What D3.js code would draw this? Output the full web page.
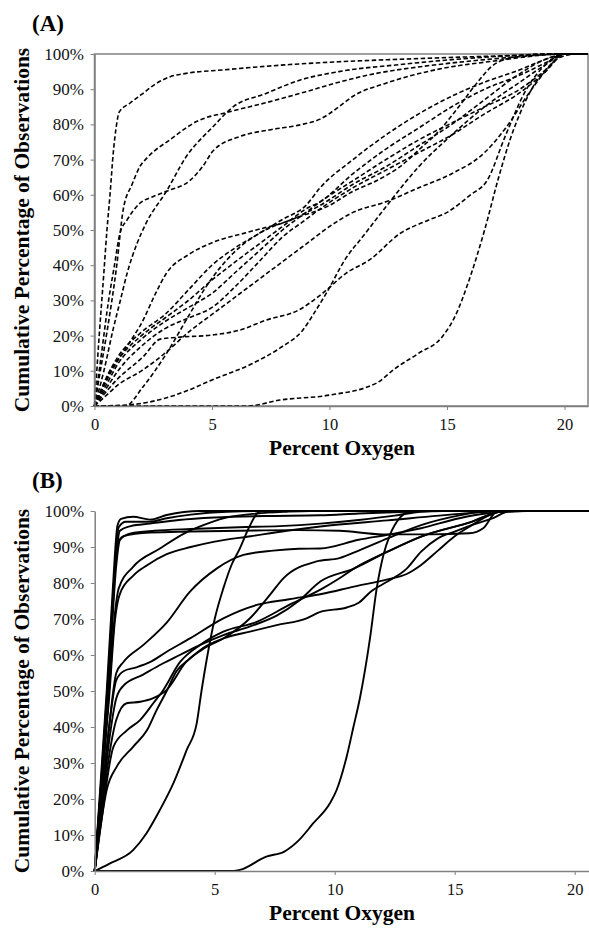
<!DOCTYPE html>
<html>
<head>
<meta charset="utf-8">
<script src="https://cdn.jsdelivr.net/npm/d3@7"></script>
<style>
  body { margin: 0; background: #fff; }
  svg { display: block; font-family: "Liberation Serif", "Times New Roman", serif; }
</style>
</head>
<body>
<svg id="chart" width="589" height="931"></svg>
<script>
// values: [percent oxygen, cumulative %]
const a1 = [[0,0],[0.2,20],[0.4,38],[0.53,50],[0.66,60],[0.8,72],[0.94,80],[1.05,83.5],[1.5,86],[2,88.5],[2.6,91.5],[3.2,93.5],[3.9,94.5],[5.5,95.5],[8.3,97],[10.4,97.8],[13,98.5],[16,99.2],[19,99.8],[20,100],[21,100]]
const a2 = [[0,0],[0.16,6.5],[0.52,20.6],[0.94,39.6],[1.22,55.7],[1.6,63],[1.93,68],[2.28,70.8],[3.2,75.6],[4.34,80.8],[5.75,83.6],[7.2,86],[9,89.3],[10.4,92],[12,94.5],[14,96.5],[16,98],[18,99.2],[20,100],[21,100]]
const a3 = [[0,0],[0.3,15],[0.6,30],[0.85,40],[1.08,49],[1.4,53],[1.93,57.6],[2.5,59.5],[3.06,61],[4.05,64],[4.6,68],[5.05,72.5],[6.2,76.6],[7.5,78.5],[8.7,79.8],[9.6,81.5],[10.4,85],[11,88],[12.4,91.7],[14.5,95.5],[17,98],[20,100],[21,100]]
const a4 = [[0,0],[0.4,10],[0.8,22],[1.1,30],[1.4,38],[1.8,46],[2.2,52],[3.06,61],[3.9,70.8],[5.05,79.4],[5.9,85],[7.3,88.8],[8.7,92.5],[10.4,95],[13,97],[16,98.8],[20,100],[21,100]]
const a5 = [[0,0],[0.6,9],[1.37,16.8],[2.07,24.4],[2.6,32],[3.06,37.7],[4,43],[5.05,46.5],[6.6,49.5],[8.4,53],[9.6,57],[11,63],[12.4,68],[13.8,74],[15.2,80],[16.6,87],[18,94],[19.2,98.5],[20,100],[21,100]]
const a6 = [[0,0],[0.5,8],[1,14],[2,21],[3,26],[4,33],[5,40],[6,45],[7,49],[8,53],[9,57],[9.6,62],[11,70],[12.4,77],[13.8,83],[15.2,88],[16.6,92],[18.1,95.5],[19.2,98.5],[20,100],[21,100]]
const a7 = [[0,0],[0.5,7],[1,13],[2,20],[3,25],[4,30],[5,35.8],[6,41],[7,46],[8,51],[9,56],[9.6,58],[11,66],[12.4,73],[13.8,79],[15.2,85],[16.6,90],[18.1,94],[19.2,97.5],[20,100],[21,100]]
const a8 = [[0,0],[0.5,6],[1,12],[2,19],[3,24],[4,28],[5,32],[6,38],[7,44],[8,50],[9,55],[9.6,58],[11,64],[12.4,70],[13.8,75.6],[15.2,80.4],[16.6,85],[18.1,90],[19.2,95.5],[20,100],[21,100]]
const a9 = [[0,0],[0.5,5],[1,10],[2,17],[3,22],[4,25],[5,28],[6,34],[7,41],[8,48],[9,53],[9.6,56],[11,62],[12.4,67],[13.8,72],[15.2,77],[16.6,83],[18.1,89],[19.2,95],[20,100],[21,100]]
const a10 = [[0,0],[0.5,3],[1,6],[2,10],[3,15],[4,21],[5,26],[6,31],[7,36],[8,41],[9,46],[10,51],[11,55],[12.4,58],[13.8,62],[15.2,66],[16.6,72],[17.5,79],[18.5,89],[19.3,96],[20,100],[21,100]]
const a11 = [[0,0],[1.3,0],[2.07,5.5],[3.07,15],[3.9,24.4],[4.76,34],[5.9,43.4],[7,49],[8.4,53],[10,57],[11,61],[12,64],[13,68],[14,74],[14.5,77],[15.5,85],[16.3,92],[17,97],[18,99.3],[19,100],[21,100]]
const a12 = [[0,0],[0.94,7.4],[2.07,14],[2.8,19],[3.5,19.5],[5.05,20.2],[6.2,21.6],[7.3,24.4],[8.7,27.3],[9.7,32],[10.7,37.7],[11.7,41.5],[13,49],[14.2,52.8],[15,55],[16,60],[16.7,64],[17.5,77],[18.3,89],[19.2,97],[20,100],[21,100]]
const a13 = [[0,0],[1.4,0.3],[3,2.2],[4,4.5],[5,7.4],[6.7,12],[7.9,16.5],[8.87,21.6],[9.43,27.3],[9.86,32],[10.7,42],[11.4,48],[12.1,54],[12.8,60],[13.8,68],[15.2,77],[16.6,85],[18.1,92],[19.2,97],[20,100],[21,100]]
const a14 = [[0,0],[6.5,0],[7.9,1.7],[10,3.1],[12,6.5],[12.8,10.7],[13.8,15],[14.8,19.7],[15.4,26.3],[15.9,35],[16.6,50],[17.2,65],[17.7,76],[18.1,83],[18.6,90],[19.2,95.5],[19.8,99],[20.5,100],[21,100]]

const b1 = [[0,0],[0.25,25],[0.5,50],[0.75,78],[0.95,96],[1.1,97.8],[1.6,98.4],[2.3,97.6],[3,98.9],[4.4,100],[21,100]]
const b2 = [[0,0],[0.3,28],[0.6,58],[0.85,85],[1,95.5],[1.3,97],[2.3,97],[3,98],[4,99],[5.5,99.8],[7,100],[21,100]]
const b3 = [[0,0],[0.3,27],[0.6,56],[0.9,88],[1.05,94.5],[1.5,95.8],[2.3,96.5],[3.5,97.5],[5,98.2],[7,98.6],[9.4,98.8],[11,99.3],[13,99.8],[14,100],[21,100]]
const b4 = [[0,0],[0.3,26],[0.6,56],[0.85,84],[1,91.5],[1.2,93],[2.3,94],[4,94.3],[6.75,94.6],[8.5,94.7],[10.2,94.5],[12,93.5],[14,93.5],[15.6,93.8],[16.2,95.3],[16.75,99.8],[17.2,100],[21,100]]
const b5 = [[0,0],[0.3,26],[0.6,54],[0.9,85],[1.05,92],[1.5,93.8],[2.5,94.5],[4,95],[6,95.5],[7.7,95.8],[9.4,96.5],[11,97.5],[12.5,98.7],[13.6,99.8],[14.5,100],[21,100]]
const b6 = [[0,0],[0.3,25],[0.6,50],[0.85,72],[1,78.5],[1.6,84.5],[2.7,89.5],[3.8,94],[4.5,96],[5.4,98],[6.75,99.3],[8,99.8],[9,100],[21,100]]
const b7 = [[0,0],[0.3,24],[0.6,48],[0.85,70],[1.05,77],[1.6,82],[2.2,85],[3,88],[4,90],[5,91.5],[6.5,93],[8,94.5],[9.4,95.7],[12.2,97.4],[15.2,99.2],[17,100],[21,100]]
const b8 = [[0,0],[0.3,20],[0.6,40],[0.9,55],[1.19,58],[2.03,62.8],[3,69],[3.97,77.6],[5.08,84],[6.2,87.8],[7.44,89],[8.5,89.5],[9.4,89.6],[11,92],[12.2,93.4],[13.6,95.2],[15.2,98],[16.3,99.3],[18,100],[21,100]]
const b9 = [[0,0],[0.3,20],[0.6,40],[0.9,53],[1.2,55.5],[1.7,56.5],[2.3,58],[3,60.9],[3.97,64.6],[5.36,70.2],[6.75,73.9],[8.1,75.5],[9.5,77],[10.8,79],[12.2,81],[13,82.5],[13.6,85],[14.3,89],[15,93],[15.7,96],[16.5,99],[17,100],[21,100]]
const b10 = [[0,0],[0.3,18],[0.6,36],[0.9,48],[1.2,51.5],[2,54.5],[2.8,57.5],[3.55,60],[4.4,62.8],[5.36,65.5],[6.5,68],[7.6,71],[8.5,75],[9.4,80.4],[10.8,84],[12.2,88.7],[13.6,92.9],[15.7,97],[16.9,99.8],[17.5,100],[21,100]]
const b11 = [[0,0],[0.3,17],[0.6,32],[0.9,42],[1.33,46.6],[1.9,47],[2.44,48],[3,50.3],[3.8,58],[4.6,62],[5.36,64.6],[6.47,70.2],[7.3,76.7],[7.86,81.3],[9.25,86],[10.2,86.9],[11,89],[12.2,92.4],[13.6,96.1],[15.2,98.8],[16,99.7],[17,100],[21,100]]
const b12 = [[0,0],[0.3,15],[0.78,34.5],[1.33,39],[1.9,42],[2.44,46.6],[2.86,50.3],[3.55,58],[4.39,62.8],[5.36,66.5],[6.75,69.2],[8.1,73.9],[9.5,78.5],[10.2,81.3],[10.8,84],[12.2,88.7],[13.6,92.9],[15.7,97],[16.9,99.8],[17.5,100],[21,100]]
const b13 = [[0,0],[0.5,22.5],[0.92,29],[1.6,34.5],[2.17,39],[2.58,44.7],[3,50],[3.4,55.4],[3.97,59],[4.5,61.9],[5.36,64.6],[6.47,66.5],[7.58,68.3],[8.83,70.2],[9.4,72],[10.5,73.2],[11,74.5],[11.5,77.6],[12.2,80.4],[13,84],[13.6,88.7],[14.3,92.4],[15,94.3],[15.7,96.1],[16.6,98],[17.2,99.8],[17.8,100],[21,100]]
const b14 = [[0,0],[0.6,2],[1.6,5.8],[2.16,10.5],[2.72,17],[3.28,24.4],[3.83,33.6],[4.25,41],[4.45,50],[4.7,60],[5,70],[5.36,78.5],[5.7,85],[6.05,89.6],[6.4,95],[6.8,99.5],[7,100],[21,100]]
const b15 = [[0,0],[5.8,0],[6.05,0.3],[7.15,4],[7.9,5.4],[8.5,8.5],[9.1,13.2],[9.8,18.8],[10.08,22.5],[10.5,31.8],[10.78,40],[11.05,48],[11.47,64.6],[11.75,78.5],[12.03,87.8],[12.3,93.3],[12.7,98],[13.1,99.8],[13.5,100],[21,100]]

const curvesA = [a1, a2, a3, a4, a5, a6, a7, a8, a9, a10, a11, a12, a13, a14]
const curvesB = [b1, b2, b3, b4, b5, b6, b7, b8, b9, b10, b11, b12, b13, b14, b15]

const yTicks = d3.range(0, 101, 10)
const xTicks = [0, 5, 10, 15, 20]
const yTitle = "Cumulative Percentage of Observations"
const xTitle = "Percent Oxygen"

const svg = d3.select("#chart")
const axisColor = "#808080"

const drawPanel = (cfg) => {
  const { curves, tag, left, right, top, bottom, dashed, box } = cfg

  const x = d3.scaleLinear().domain([0, 21]).range([left, right])
  const y = d3.scaleLinear().domain([0, 100]).range([bottom, top])
  const g = svg.append("g")

  if (box) {
    g.append("rect")
      .attr("x", left)
      .attr("y", top)
      .attr("width", right - left)
      .attr("height", bottom - top)
      .attr("fill", "none")
      .attr("stroke", axisColor)
      .attr("stroke-width", 1.5)
  }

  const line = d3.line()
    .x(d => x(d[0]))
    .y(d => y(d[1]))
    .curve(d3.curveMonotoneX)

  g.append("g")
    .selectAll("path")
    .data(curves)
    .enter()
    .append("path")
    .attr("d", line)
    .attr("fill", "none")
    .attr("stroke", "#000")
    .attr("stroke-width", dashed ? 1.6 : 1.9)
    .attr("stroke-dasharray", dashed ? "4.5,2.5" : null)
    .attr("stroke-linejoin", "round")

  const yAxis = g.append("g")
    .attr("transform", `translate(${left},0)`)
    .call(d3.axisLeft(y).tickValues(yTicks).tickFormat(d => d + "%").tickSize(4).tickPadding(6.5).tickSizeOuter(0))

  const xAxis = g.append("g")
    .attr("transform", `translate(0,${bottom})`)
    .call(d3.axisBottom(x).tickValues(xTicks).tickFormat(d3.format("d")).tickSize(4).tickPadding(8).tickSizeOuter(0))

  for (const ax of [yAxis, xAxis]) {
    ax.select(".domain").attr("stroke", axisColor).attr("stroke-width", 1.5)
    ax.selectAll(".tick line").attr("stroke", axisColor).attr("stroke-width", 1)
    ax.selectAll(".tick text")
      .attr("fill", "#111")
      .style("font-family", "'Liberation Serif', 'Times New Roman', serif")
  }
  yAxis.selectAll(".tick text").style("font-size", "17px")
  xAxis.selectAll(".tick text").style("font-size", "16.5px")

  g.append("text")
    .attr("transform", `translate(29,${(top + bottom) / 2}) rotate(-90)`)
    .attr("text-anchor", "middle")
    .style("font-weight", "bold")
    .style("font-size", "21.5px")
    .text(yTitle)

  g.append("text")
    .attr("x", 342)
    .attr("y", bottom + 49)
    .attr("text-anchor", "middle")
    .style("font-weight", "bold")
    .style("font-size", "21.5px")
    .text(xTitle)

  g.append("text")
    .attr("x", 32)
    .attr("y", top - 23)
    .style("font-weight", "bold")
    .style("font-size", "23px")
    .text(tag)
}

drawPanel({ curves: curvesA, tag: "(A)", left: 94.5, right: 588, top: 54, bottom: 406, dashed: true, box: true })
drawPanel({ curves: curvesB, tag: "(B)", left: 94.7, right: 598.7, top: 511, bottom: 871, dashed: false, box: false })
</script>
</body>
</html>
